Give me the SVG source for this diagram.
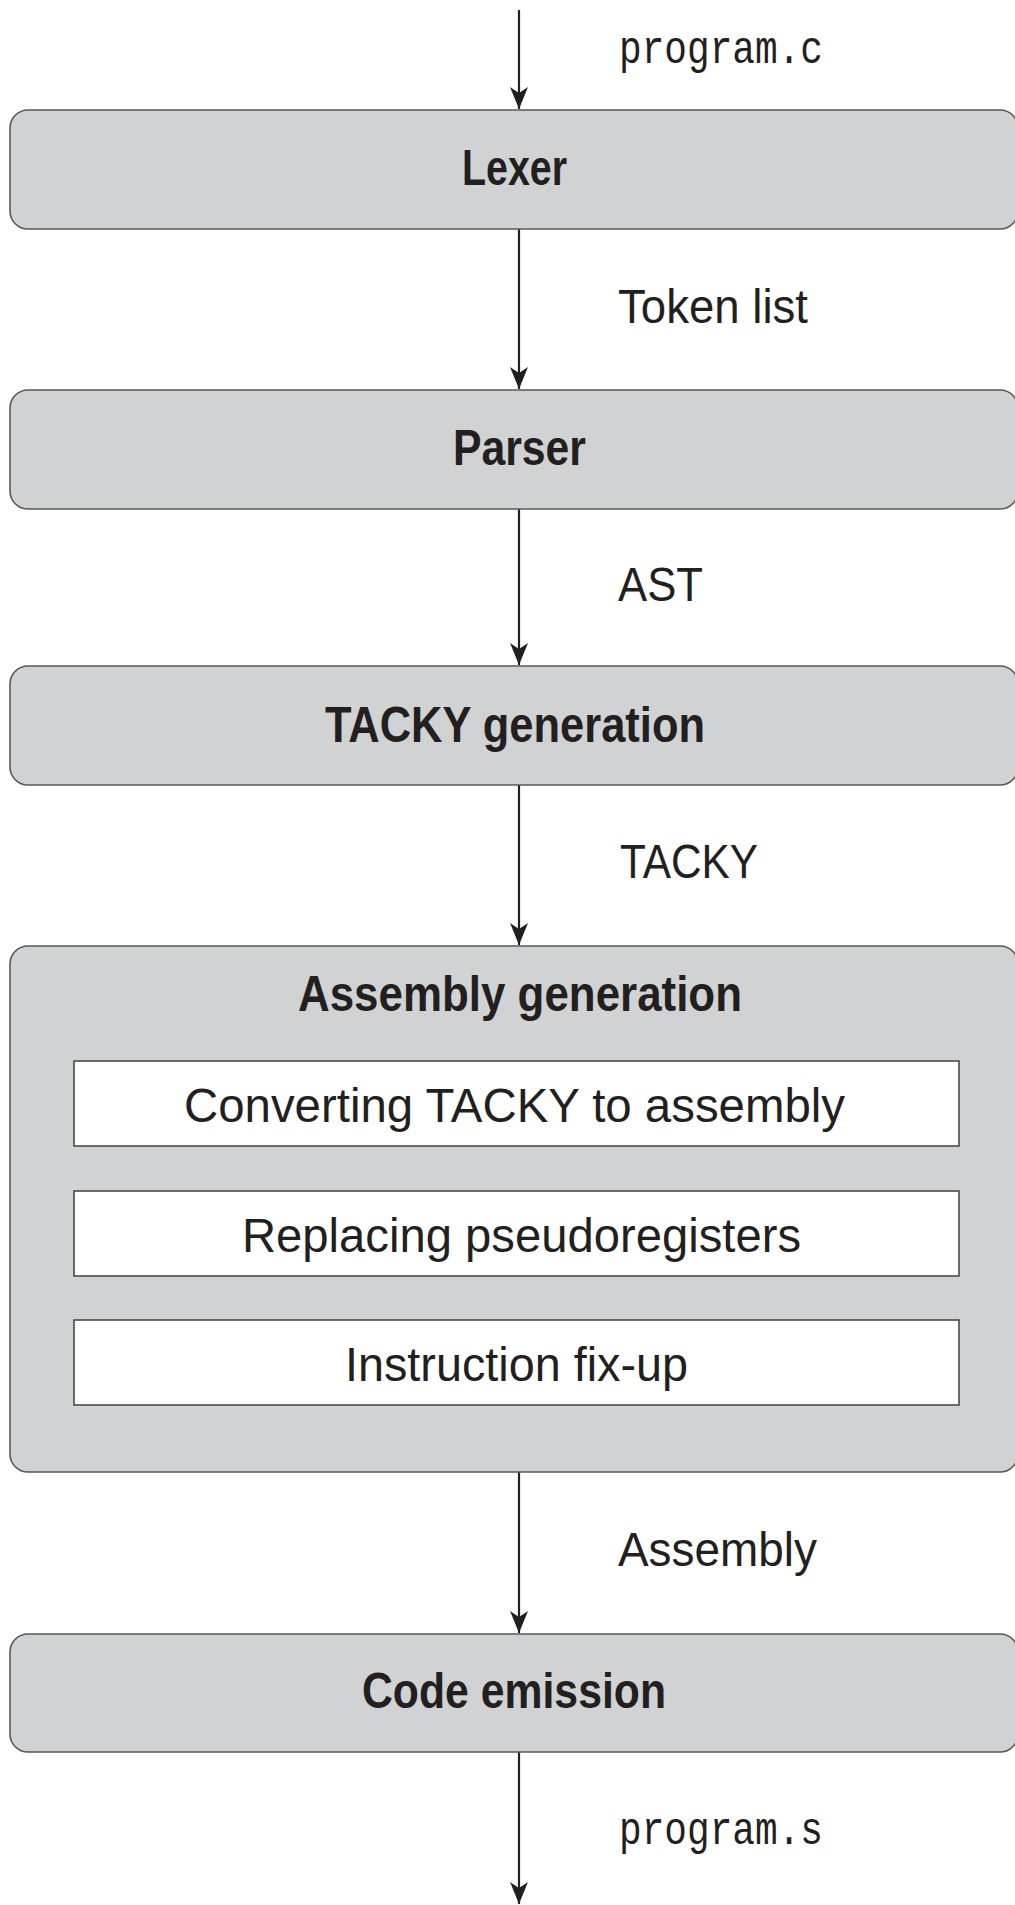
<svg xmlns="http://www.w3.org/2000/svg" width="1015" height="1905" viewBox="0 0 1015 1905">
<style>
.box{fill:#d1d2d4;stroke:#58585a;stroke-width:1.6}
.inner{fill:#ffffff;stroke:#4a4a4c;stroke-width:1.6}
.title{font-family:"Liberation Sans",Arial,sans-serif;font-weight:bold;font-size:50px;fill:#231f20}
.sub{font-family:"Liberation Sans",Arial,sans-serif;font-size:48px;fill:#231f20}
.lbl{font-family:"Liberation Sans",Arial,sans-serif;font-size:48px;fill:#231f20}
.mono{font-family:"Liberation Mono","DejaVu Sans Mono",monospace;font-size:46px;fill:#231f20}
.edge{stroke:#231f20;stroke-width:2.2;fill:none;marker-end:url(#ah)}
</style>
<defs>
<marker id="ah" markerWidth="22" markerHeight="18" refX="22" refY="9" orient="auto" markerUnits="userSpaceOnUse" viewBox="0 0 22 18">
<path d="M0,0 L22,9 L0,18 L6,9 Z" fill="#231f20"/>
</marker>
</defs>
<rect width="1015" height="1905" fill="#ffffff"/>
<g id="connectors">
<line class="edge" x1="519" y1="10" x2="519" y2="109"/>
<line class="edge" x1="519" y1="229" x2="519" y2="389"/>
<line class="edge" x1="519" y1="509" x2="519" y2="665"/>
<line class="edge" x1="519" y1="785" x2="519" y2="945"/>
<line class="edge" x1="519" y1="1472" x2="519" y2="1633"/>
<line class="edge" x1="519" y1="1752" x2="519" y2="1904"/>
<text class="mono" x="619" y="63" textLength="204" lengthAdjust="spacingAndGlyphs">program.c</text>
<text class="lbl" x="618" y="323" textLength="190" lengthAdjust="spacingAndGlyphs">Token list</text>
<text class="lbl" x="618" y="601" textLength="85" lengthAdjust="spacingAndGlyphs">AST</text>
<text class="lbl" x="620" y="878" textLength="138" lengthAdjust="spacingAndGlyphs">TACKY</text>
<text class="lbl" x="618" y="1566" textLength="199" lengthAdjust="spacingAndGlyphs">Assembly</text>
<text class="mono" x="619" y="1844" textLength="204" lengthAdjust="spacingAndGlyphs">program.s</text>
</g>
<g id="lexer">
<rect class="box" x="10" y="110" width="1008" height="119" rx="18" ry="18"/>
<text class="title" x="462" y="185" textLength="105" lengthAdjust="spacingAndGlyphs">Lexer</text>
</g>
<g id="parser">
<rect class="box" x="10" y="390" width="1008" height="119" rx="18" ry="18"/>
<text class="title" x="453" y="465" textLength="133" lengthAdjust="spacingAndGlyphs">Parser</text>
</g>
<g id="tacky-generation">
<rect class="box" x="10" y="666" width="1008" height="119" rx="18" ry="18"/>
<text class="title" x="325" y="742" textLength="380" lengthAdjust="spacingAndGlyphs">TACKY generation</text>
</g>
<g id="assembly-generation">
<rect class="box" x="10" y="946" width="1008" height="526" rx="18" ry="18"/>
<text class="title" x="298" y="1011" textLength="444" lengthAdjust="spacingAndGlyphs">Assembly generation</text>
<g id="converting">
<rect class="inner" x="74" y="1061" width="885" height="85"/>
<text class="sub" x="184" y="1122" textLength="661" lengthAdjust="spacingAndGlyphs">Converting TACKY to assembly</text>
</g>
<g id="replacing">
<rect class="inner" x="74" y="1191" width="885" height="85"/>
<text class="sub" x="242" y="1252" textLength="559" lengthAdjust="spacingAndGlyphs">Replacing pseudoregisters</text>
</g>
<g id="fixup">
<rect class="inner" x="74" y="1320" width="885" height="85"/>
<text class="sub" x="345" y="1381" textLength="343" lengthAdjust="spacingAndGlyphs">Instruction fix-up</text>
</g>
</g>
<g id="code-emission">
<rect class="box" x="10" y="1634" width="1008" height="118" rx="18" ry="18"/>
<text class="title" x="362" y="1708" textLength="304" lengthAdjust="spacingAndGlyphs">Code emission</text>
</g>
</svg>
